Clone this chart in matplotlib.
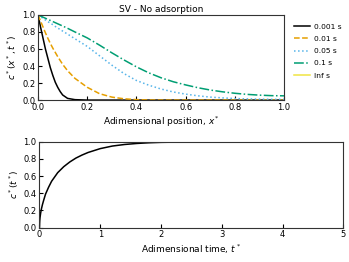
import matplotlib
matplotlib.use("Agg")
from matplotlib import pyplot as plt

plt.rcParams['font.family'] = ['DejaVu Sans']
plt.rcParams['font.size'] = 6
plt.rcParams['mathtext.fontset'] = 'dejavusans'

# top panel: concentration profiles c*(x*, t*)
x_pos = [0.0, 0.01, 0.02, 0.03, 0.04, 0.05, 0.06, 0.07, 0.08, 0.09, 0.1, 0.12, 0.15, 0.2,
         0.25, 0.3, 0.35, 0.4, 0.45, 0.5, 0.55, 0.6, 0.65, 0.7, 0.75, 0.8, 0.85, 0.9, 0.95, 1.0]
c_0001 = [1.0, 0.86, 0.73, 0.60, 0.49, 0.38, 0.29, 0.21, 0.15, 0.10, 0.06, 0.02, 0.005, 0.0,
          0.0, 0.0, 0.0, 0.0, 0.0, 0.0, 0.0, 0.0, 0.0, 0.0, 0.0, 0.0, 0.0, 0.0, 0.0, 0.0]
c_001 = [1.0, 0.93, 0.86, 0.79, 0.725, 0.665, 0.61, 0.56, 0.51, 0.465, 0.42, 0.345, 0.255, 0.15,
         0.075, 0.035, 0.015, 0.005, 0.001, 0.0, 0.0, 0.0, 0.0, 0.0, 0.0, 0.0, 0.0, 0.0, 0.0, 0.0]
c_005 = [1.0, 0.98, 0.96, 0.94, 0.92, 0.905, 0.885, 0.865, 0.845, 0.83, 0.81, 0.775, 0.72, 0.63,
         0.52, 0.41, 0.31, 0.23, 0.175, 0.13, 0.095, 0.07, 0.05, 0.035, 0.026, 0.018, 0.014, 0.011, 0.009, 0.008]
c_01 = [1.0, 0.987, 0.974, 0.961, 0.948, 0.935, 0.922, 0.909, 0.896, 0.883, 0.87, 0.843, 0.80, 0.73,
        0.645, 0.555, 0.47, 0.39, 0.32, 0.262, 0.215, 0.178, 0.145, 0.118, 0.097, 0.08, 0.067, 0.058, 0.052, 0.05]
c_inf = [1.0] * len(x_pos)

# bottom panel: c*(t*) at the boundary
t_time = [0.0, 0.005, 0.01, 0.02, 0.03, 0.05, 0.07, 0.1, 0.15, 0.2, 0.3, 0.4, 0.5, 0.6, 0.7, 0.8,
          1.0, 1.2, 1.4, 1.6, 1.8, 2.0, 2.5, 3.0, 4.0, 5.0]
c_time = [0.0, 0.08, 0.12, 0.17, 0.21, 0.27, 0.32, 0.39, 0.47, 0.54, 0.64, 0.71, 0.765, 0.81, 0.845, 0.875,
          0.92, 0.95, 0.968, 0.98, 0.988, 0.993, 0.998, 1.0, 1.0, 1.0]

labels = ['0.001 s', '0.01 s', '0.05 s', '0.1 s', 'Inf s']
colors = ['black', '#E69F00', '#56B4E9', '#009E73', '#F0E442']
styles = ['-', '--', ':', '-.', '-']

fig = plt.figure(figsize=(3.49, 2.62), dpi=100)
ax1 = fig.add_axes([0.109, 0.618, 0.705, 0.325])
ax2 = fig.add_axes([0.113, 0.131, 0.871, 0.328])

for y, lab, col, ls in zip([c_0001, c_001, c_005, c_01, c_inf], labels, colors, styles):
    ax1.plot(x_pos, y, color=col, linestyle=ls, linewidth=1.1, label=lab)
ax1.set_xlim(0, 1)
ax1.set_ylim(0, 1)
ax1.set_xticks([0, 0.2, 0.4, 0.6, 0.8, 1.0])
ax1.set_yticks([0, 0.2, 0.4, 0.6, 0.8, 1.0])
ax1.set_title('SV - No adsorption', fontsize=6.5, pad=2)
ax1.set_xlabel('Adimensional position, $x^*$', fontsize=6.5, labelpad=2)
ax1.set_ylabel('$c^*(x^*, t^*)$', fontsize=6.5, labelpad=2)
ax1.legend(loc='center left', bbox_to_anchor=(0.842, 0.805), bbox_transform=fig.transFigure,
           frameon=False, fontsize=5.4, borderpad=0, borderaxespad=0,
           handlelength=2.2, handletextpad=0.5, labelspacing=0.8)

ax2.plot(t_time, c_time, color='black', linewidth=1.1)
ax2.set_xlim(0, 5)
ax2.set_ylim(0, 1)
ax2.set_yticks([0, 0.2, 0.4, 0.6, 0.8, 1.0])
ax2.set_xlabel('Adimensional time, $t^*$', fontsize=6.5, labelpad=2)
ax2.set_ylabel('$c^*(t^*)$', fontsize=6.5, labelpad=2)

for ax in (ax1, ax2):
    ax.tick_params(direction='in', length=3, pad=2, labelsize=6)
    for s in ax.spines.values():
        s.set_color('#333333')
        s.set_linewidth(0.8)

fig.savefig('out.png', dpi=100)
